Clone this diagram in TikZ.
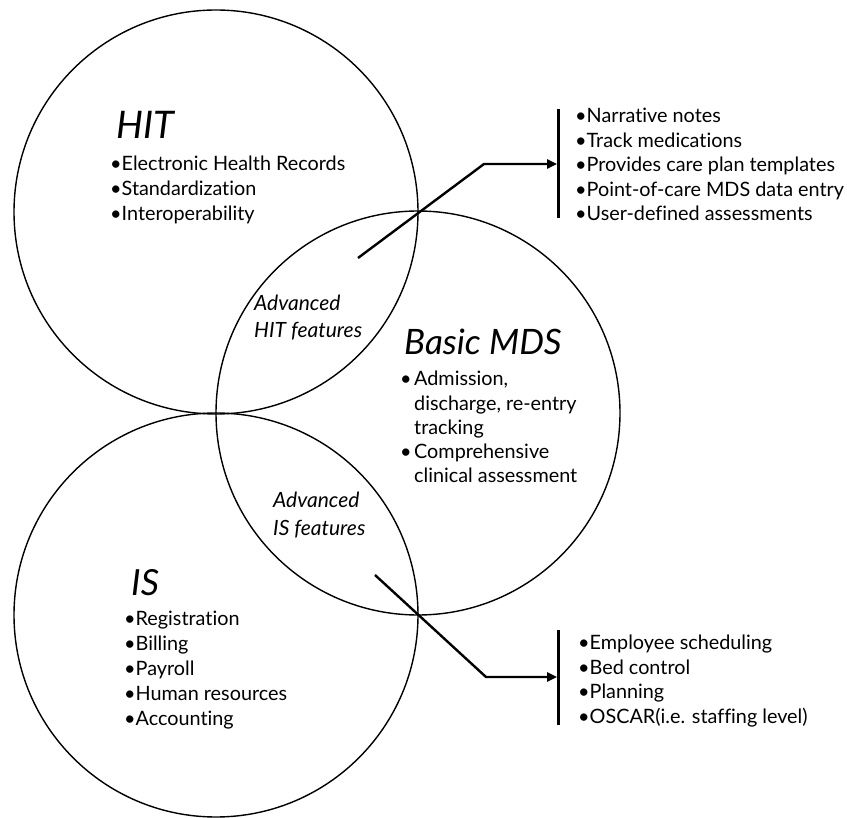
\documentclass[tikz,border=0pt]{standalone}
\usepackage{fontspec}
\setmainfont{Lato}[Ligatures={NoCommon}]
\usetikzlibrary{arrows.meta}
\newcommand\mbul{\makebox[14pt][l]{•}}
\begin{document}
\begin{tikzpicture}[x=1pt,y=-1pt,
  venn/.style={circle,draw,line width=1.4pt,minimum size=404pt,inner sep=0pt},
  txt/.style={anchor=north west,inner sep=0pt,align=left},
  lst/.style={txt,font=\fontsize{19.8}{25}\selectfont},
  ttl/.style={txt,font=\fontsize{38}{40}\selectfont\itshape},
  adv/.style={txt,font=\fontsize{21}{27}\selectfont\itshape},
  conn/.style={line width=2.4pt},
  bar/.style={line width=3pt}]
\useasboundingbox (0,0) rectangle (847,818);
\node[venn] (hit) at (216,212) {};
\node[venn] (mds) at (418,413) {};
\node[venn] (is) at (216,615) {};
% texts
\node[ttl] (hitt) at (116,111) {HIT};
\node[lst] (hitl) at (110,156) {•Electronic Health Records\\•Standardization\\•Interoperability};
\node[adv] (advhit) at (254,295) {Advanced\\HIT features};
\node[txt,font=\fontsize{35}{36}\selectfont\itshape] (mdst) at (404,329) {Basic MDS};
\node[lst,font=\fontsize{19.8}{24.3}\selectfont] (mdsl) at (400,371) {\mbul Admission,\\\hspace*{14pt}discharge, re-entry\\\hspace*{14pt}tracking\\\mbul Comprehensive\\\hspace*{14pt}clinical assessment};
\node[adv,font=\fontsize{21}{28}\selectfont\itshape] (advis) at (273,492) {Advanced\\IS features};
\node[ttl,font=\fontsize{36}{40}\selectfont\itshape] (ist) at (131,569) {IS};
\node[lst] (isl) at (124,611) {•Registration\\•Billing\\•Payroll\\•Human resources\\•Accounting};
\node[lst,font=\fontsize{19.8}{24.5}\selectfont] (upl) at (575,108) {•Narrative notes\\•Track medications\\•Provides care plan templates\\•Point-of-care MDS data entry\\•User-defined assessments};
\node[lst,font=\fontsize{19.8}{24.5}\selectfont] (lol) at (578,635) {•Employee scheduling\\•Bed control\\•Planning\\•OSCAR(i.e. staffing level)};
% connectors
\coordinate (ua) at (358,258);
\coordinate (ub) at (484,164);
\coordinate (uc) at (557,164);
\coordinate (ut) at (558,109);
\coordinate (ubot) at (558,218);
\coordinate (la) at (375,575);
\coordinate (lb) at (486,677);
\coordinate (lc) at (557,677);
\coordinate (lt) at (558,630);
\coordinate (lbot) at (558,725);
\draw[bar] (ut) -- (ubot);
\draw[bar] (lt) -- (lbot);
\draw[conn,-{Triangle[length=10pt,width=9pt]}] (ua) -- (ub) -- (uc);
\draw[conn,-{Triangle[length=10pt,width=9pt]}] (la) -- (lb) -- (lc);
\end{tikzpicture}
\end{document}
